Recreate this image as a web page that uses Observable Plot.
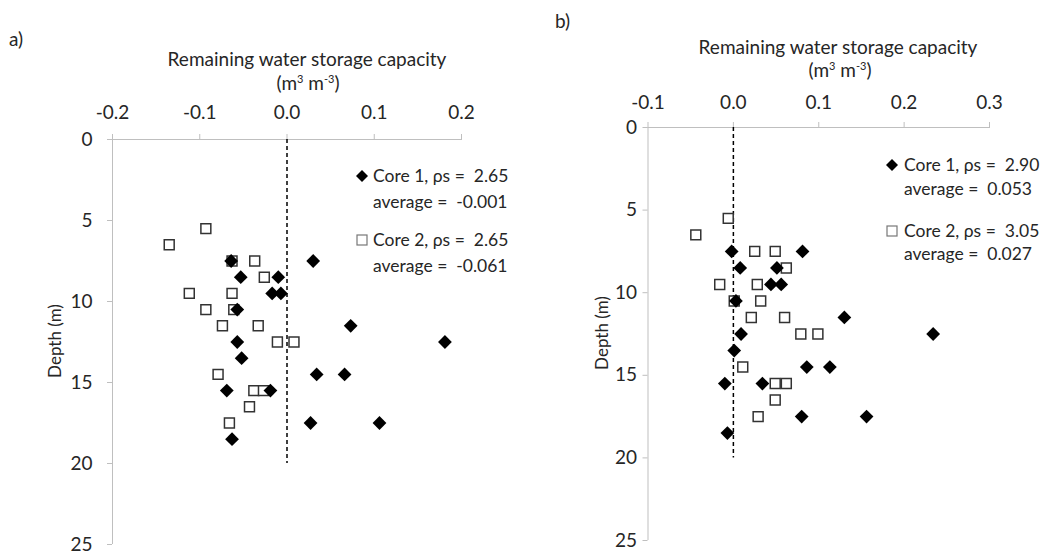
<!DOCTYPE html>
<html><head><meta charset="utf-8">
<script src="https://cdn.jsdelivr.net/npm/d3@7"></script>
<script src="https://cdn.jsdelivr.net/npm/@observablehq/plot@0.6"></script>
<style>
body{margin:0;background:#fff;}
#wrap{position:relative;width:1051px;height:553px;font-family:Lato, "Open Sans", sans-serif;color:#262626;overflow:hidden;}
.panel{position:absolute;top:0;}
.t{position:absolute;font-size:19px;white-space:pre;line-height:1;}
.s{font-size:17.5px;}
.c{transform:translate(-50%,-50%);}
.l{transform:translate(0,-50%);}
.r{transform:translate(-50%,-50%) rotate(-90deg);font-size:17px;}
sup{font-size:11px;vertical-align:7px;line-height:0;}
</style></head><body><div id="wrap"></div>
<script>
// Panel a) Core 1 (filled diamonds)
const depthA1 = [7.5, 7.5, 8.5, 8.5, 9.5, 9.5, 10.5, 11.5, 12.5, 12.5, 13.5, 14.5, 14.5, 15.5, 15.5, 17.5, 17.5, 18.5];
const valueA1 = [-0.064, 0.030, -0.053, -0.010, -0.017, -0.007, -0.057, 0.073, 0.181, -0.057, -0.052, 0.034, 0.066, -0.069, -0.019, 0.027, 0.106, -0.063];
// Panel a) Core 2 (open squares)
const depthA2 = [5.5, 6.5, 7.5, 7.5, 8.5, 9.5, 9.5, 10.5, 10.5, 11.5, 11.5, 12.5, 12.5, 14.5, 15.5, 15.5, 16.5, 17.5];
const valueA2 = [-0.093, -0.135, -0.063, -0.037, -0.026, -0.112, -0.063, -0.093, -0.061, -0.074, -0.033, -0.011, 0.008, -0.079, -0.038, -0.027, -0.043, -0.066];
// Panel b) Core 1
const depthB1 = [7.5, 7.5, 8.5, 8.5, 9.5, 9.5, 10.5, 11.5, 12.5, 12.5, 13.5, 14.5, 14.5, 15.5, 15.5, 17.5, 17.5, 18.5];
const valueB1 = [-0.002, 0.081, 0.008, 0.051, 0.044, 0.056, 0.003, 0.130, 0.009, 0.234, 0.001, 0.086, 0.113, -0.010, 0.034, 0.080, 0.156, -0.007];
// Panel b) Core 2
const depthB2 = [5.5, 6.5, 7.5, 7.5, 8.5, 9.5, 9.5, 10.5, 10.5, 11.5, 11.5, 12.5, 12.5, 14.5, 15.5, 15.5, 16.5, 17.5];
const valueB2 = [-0.006, -0.044, 0.025, 0.049, 0.062, -0.016, 0.028, 0.001, 0.032, 0.021, 0.060, 0.079, 0.099, 0.011, 0.049, 0.062, 0.049, 0.029];

const xTicksA = [-0.2, -0.1, 0.0, 0.1, 0.2];
const xTicksB = [-0.1, 0.0, 0.1, 0.2, 0.3];
const yTicks = [0, 5, 10, 15, 20, 25];
const refLine = [0];     // zero reference value
const refDepth = [0, 20]; // extent of the dashed reference line

const legendA = [["Core 1, ρs =  2.65", "average =  -0.001"], ["Core 2, ρs =  2.65", "average =  -0.061"]];
const legendB = [["Core 1, ρs =  2.90", "average =  0.053"], ["Core 2, ρs =  3.05", "average =  0.027"]];

const AXIS = "#bfbfbf";
const wrap = document.getElementById("wrap");

function zip(v, d) { return v.map((x, i) => ({x, d: d[i]})); }

function panel(cfg) {
  const p = Plot.plot({
    width: cfg.width, height: 553,
    marginLeft: cfg.ml, marginRight: cfg.mr, marginTop: cfg.mt, marginBottom: cfg.mb,
    style: {fontFamily: "Lato, 'Open Sans', sans-serif", fontSize: "19px", color: "#262626", background: "transparent", overflow: "visible"},
    x: {domain: [cfg.xTicks[0], cfg.xTicks[cfg.xTicks.length - 1]]},
    y: {domain: [0, 25], reverse: true},
    marks: [
      Plot.ruleY([0], {stroke: AXIS, strokeWidth: 1}),
      Plot.ruleX([cfg.xTicks[0]], {stroke: AXIS, strokeWidth: 1}),
      Plot.axisX({anchor: "top", ticks: cfg.xTicks, tickSize: 6, tickPadding: cfg.xp, stroke: AXIS, tickFormat: d => d.toFixed(1), label: null, fill: "#262626"}),
      Plot.axisY({anchor: "left", ticks: yTicks, tickSize: 5, tickPadding: cfg.tp, stroke: AXIS, tickFormat: d => String(d), fill: "#262626", label: null}),
      Plot.ruleX(refLine, {y1: refDepth[0], y2: refDepth[1], stroke: "#000", strokeWidth: 1.5, strokeDasharray: "4,3"}),
      Plot.dot(zip(cfg.v2, cfg.d2), {x: "x", y: "d", symbol: "square", r: 5.6, fill: "#fff", stroke: "#333", strokeWidth: 1.5}),
      Plot.dot(zip(cfg.v1, cfg.d1), {x: "x", y: "d", symbol: "diamond2", r: 6.2, fill: "#000", stroke: "none"})
    ]
  });
  p.classList.add("panel");
  p.style.left = cfg.left + "px";
  wrap.appendChild(p);
}

panel({left: 0, width: 525, ml: 112, mr: 64, mt: 139, mb: 9, tp: 15, xp: 15, xTicks: xTicksA, v1: valueA1, d1: depthA1, v2: valueA2, d2: depthA2});
panel({left: 525, width: 526, ml: 122.5, mr: 62, mt: 127, mb: 13, tp: 6, xp: 13, xTicks: xTicksB, v1: valueB1, d1: depthB1, v2: valueB2, d2: depthB2});

function text(html, x, y, cls) {
  const el = document.createElement("div");
  el.className = "t " + cls;
  el.innerHTML = html;
  el.style.left = x + "px"; el.style.top = y + "px";
  wrap.appendChild(el);
}
const diamondSvg = '<svg width="14" height="14" style="position:absolute;left:-7px;top:-7px"><path d="M7 1 L13 7 L7 13 L1 7 Z" fill="#000"/></svg>';
const squareSvg = '<svg width="14" height="14" style="position:absolute;left:-7px;top:-7px"><rect x="2" y="2" width="10" height="10" fill="#fff" stroke="#777" stroke-width="1.2"/></svg>';
function marker(svg, x, y) {
  const el = document.createElement("div");
  el.style.position = "absolute"; el.style.left = x + "px"; el.style.top = y + "px";
  el.innerHTML = svg; wrap.appendChild(el);
}

// Panel labels, axis titles
text("a)", 9, 38, "l");
text("b)", 555, 20, "l");
text("Remaining water storage capacity", 307, 58, "c");
text("(m<sup>3</sup> m<sup>-3</sup>)", 308, 82, "c");
text("Remaining water storage capacity", 838, 46, "c");
text("(m<sup>3</sup> m<sup>-3</sup>)", 840, 69, "c");
text("Depth (m)", 54, 341, "r");
text("Depth (m)", 601, 333, "r");

// Legends
marker(diamondSvg, 362, 176); text(legendA[0][0], 373, 176, "l s"); text(legendA[0][1], 373, 202, "l s");
marker(squareSvg, 362, 240); text(legendA[1][0], 373, 240, "l s"); text(legendA[1][1], 373, 266, "l s");
marker(diamondSvg, 892, 165); text(legendB[0][0], 904, 165, "l s"); text(legendB[0][1], 904, 189, "l s");
marker(squareSvg, 892, 231); text(legendB[1][0], 904, 231, "l s"); text(legendB[1][1], 904, 254, "l s");
</script></body></html>
